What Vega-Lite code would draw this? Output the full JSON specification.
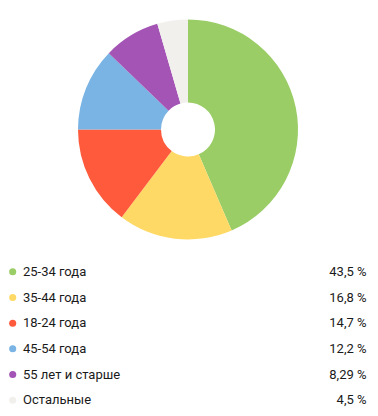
{
  "$schema": "https://vega.github.io/schema/vega-lite/v6.json",
  "padding": 0,
  "spacing": 0,
  "background": "white",
  "config": {"view": {"stroke": null}, "font": "Roboto"},
  "data": {
    "values": [
      {"label": "25-34 года", "pct": 43.5, "txt": "43,5 %", "ord": 1},
      {"label": "35-44 года", "pct": 16.8, "txt": "16,8 %", "ord": 2},
      {"label": "18-24 года", "pct": 14.7, "txt": "14,7 %", "ord": 3},
      {"label": "45-54 года", "pct": 12.2, "txt": "12,2 %", "ord": 4},
      {"label": "55 лет и старше", "pct": 8.29, "txt": "8,29 %", "ord": 5},
      {"label": "Остальные", "pct": 4.5, "txt": "4,5 %", "ord": 6}
    ]
  },
  "vconcat": [
    {
      "width": 376,
      "height": 259,
      "mark": {"type": "arc", "outerRadius": 110, "innerRadius": 27, "stroke": null},
      "encoding": {
        "theta": {"field": "pct", "type": "quantitative", "stack": true},
        "order": {"field": "ord", "type": "quantitative"},
        "color": {
          "field": "label",
          "type": "nominal",
          "legend": null,
          "scale": {
            "domain": ["25-34 года", "35-44 года", "18-24 года", "45-54 года", "55 лет и старше", "Остальные"],
            "range": ["#9acd66", "#ffd966", "#ff5a3c", "#79b4e4", "#a454b4", "#f1f0ed"]
          }
        }
      }
    },
    {
      "width": 378,
      "height": 154,
      "encoding": {
        "y": {
          "field": "label",
          "type": "ordinal",
          "sort": {"field": "ord"},
          "axis": null,
          "scale": {"paddingInner": 0, "paddingOuter": 0}
        }
      },
      "layer": [
        {
          "mark": {"type": "point", "filled": true, "size": 50, "opacity": 1, "x": 12.7},
          "encoding": {
            "color": {
              "field": "label",
              "type": "nominal",
              "legend": null,
              "scale": {
                "domain": ["25-34 года", "35-44 года", "18-24 года", "45-54 года", "55 лет и старше", "Остальные"],
                "range": ["#9acd66", "#ffd966", "#ff5a3c", "#79b4e4", "#a454b4", "#f1f0ed"]
              }
            }
          }
        },
        {
          "mark": {"type": "text", "align": "left", "baseline": "middle", "x": 23, "fontSize": 13, "color": "#1a1a1a"},
          "encoding": {"text": {"field": "label"}}
        },
        {
          "mark": {"type": "text", "align": "right", "baseline": "middle", "x": 366.5, "fontSize": 13, "color": "#1a1a1a"},
          "encoding": {"text": {"field": "txt"}}
        }
      ]
    }
  ]
}
